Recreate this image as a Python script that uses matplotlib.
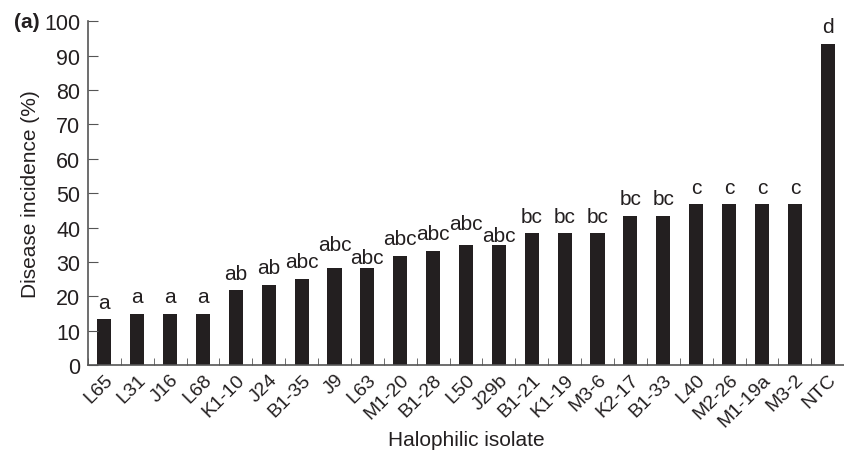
import numpy as np
import matplotlib.pyplot as plt

# 数据
isolates = ["L65", "L31", "J16", "L68", "K1-10", "J24", "B1-35", "J9", "L63",
            "M1-20", "B1-28", "L50", "J29b", "B1-21", "K1-19", "M3-6", "K2-17",
            "B1-33", "L40", "M2-26", "M1-19a", "M3-2", "NTC"]
incidence = [13.3, 15.0, 15.0, 15.0, 21.7, 23.3, 25.0, 28.3, 28.3,
             31.7, 33.3, 35.0, 35.0, 38.3, 38.3, 38.3, 43.3,
             43.3, 46.7, 46.7, 46.7, 46.7, 93.3]
groups = ["a", "a", "a", "a", "ab", "ab", "abc", "abc", "abc",
          "abc", "abc", "abc", "abc", "bc", "bc", "bc", "bc",
          "bc", "c", "c", "c", "c", "d"]

# 字母标注错开，避免重叠 (points)
label_shift = {"J9": 4.5, "L50": 2.5, "L63": -5.0, "J29b": -6.0}

plt.rcParams['font.family'] = ['Liberation Sans', 'DejaVu Sans']
ink = '#231f20'
axis_c = '#555555'
fs = 15

fig = plt.figure(figsize=(8.45, 4.52), dpi=100)
ax = fig.add_axes([0.104, 0.19, 0.895, 0.761])

x = np.arange(len(isolates))
ax.bar(x, incidence, width=0.43, color=ink)

for xi, name, v, g in zip(x, isolates, incidence, groups):
    dy = 8.5 + label_shift.get(name, 0.0)
    ax.annotate(g, (xi, v), xytext=(0, dy), textcoords='offset points',
                ha='center', va='baseline', fontsize=fs, color=ink)

ax.set_xlim(-0.5, len(isolates) - 0.5)
ax.set_ylim(0, 100)
ax.set_yticks(np.arange(0, 101, 10))
ax.set_xticks(x)
ax.set_xticklabels(isolates, rotation=45, ha='right', rotation_mode='anchor')
ax.set_xticks(np.arange(-0.5, len(isolates), 1), minor=True)
ax.tick_params(axis='x', which='major', length=0, pad=4, labelsize=14, labelcolor=ink)
ax.tick_params(axis='x', which='minor', direction='in', length=5, color=axis_c)
ax.tick_params(axis='y', direction='in', length=7, color=axis_c,
               labelsize=15.5, labelcolor=ink, pad=5.5)

for s in ['top', 'right']:
    ax.spines[s].set_visible(False)
for s in ['left', 'bottom']:
    ax.spines[s].set_color(axis_c)
    ax.spines[s].set_linewidth(1.2)

ax.set_xlabel("Halophilic isolate", fontsize=fs, color=ink)
ax.xaxis.set_label_coords(0.5, -0.19)
ax.set_ylabel("Disease incidence (%)", fontsize=fs, color=ink, labelpad=3)
fig.text(0.016, 0.951, "(a)", fontsize=fs, fontweight='bold', color=ink,
         ha='left', va='center')

fig.savefig("out.png", dpi=100)
